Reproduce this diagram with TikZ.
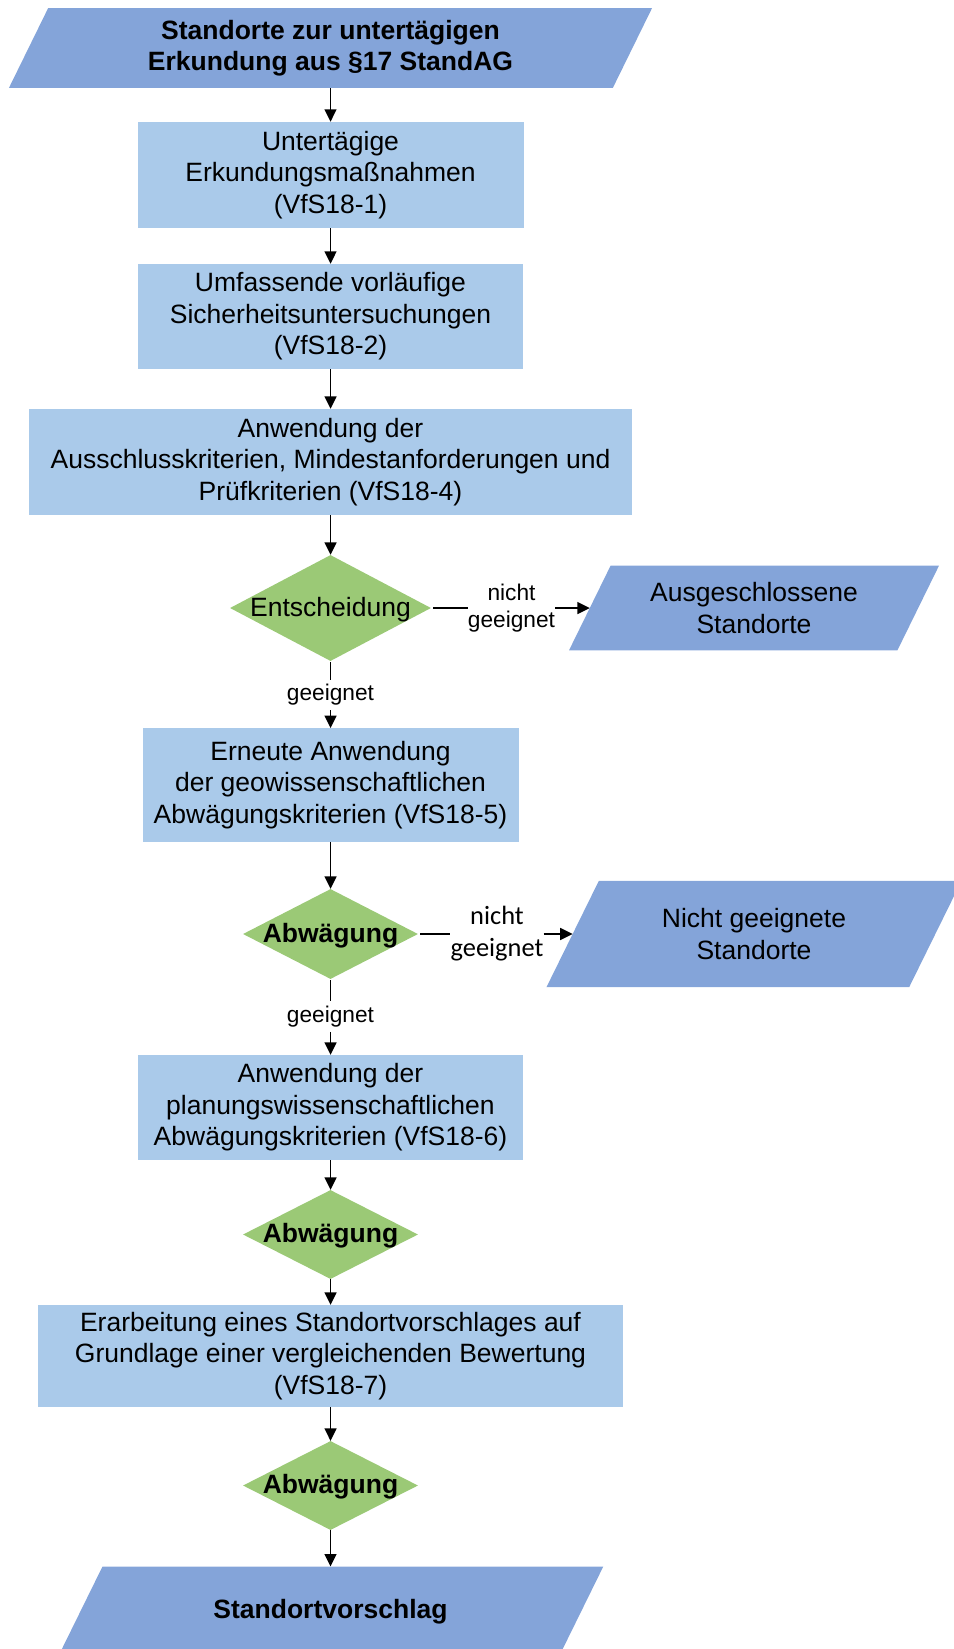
\documentclass[tikz,border=0pt]{standalone}
\usepackage{fontspec}
\setmainfont{Liberation Sans}
\newfontfamily\labelfont{Carlito}
\usetikzlibrary{arrows.meta,calc,shapes.geometric,backgrounds}

\definecolor{paraBlue}{RGB}{132,164,217}
\definecolor{boxBlue}{RGB}{170,202,234}
\definecolor{diaGreen}{RGB}{155,201,118}

% slanted input/output shape behind a text node: #1 node, #2 half of the horizontal skew
\newcommand{\parafill}[2]{%
  \fill[paraBlue] ($(#1.north west)+(#2,0)$) -- ($(#1.north east)+(#2,0)$)
    -- ($(#1.south east)-(#2,0)$) -- ($(#1.south west)-(#2,0)$) -- cycle;}

\tikzset{
  bigtext/.style={font=\fontsize{26.5}{31.5}\selectfont},
  boldtext/.style={font=\fontsize{26.5}{31.5}\selectfont\bfseries},
  stepbox/.style={rectangle, fill=boxBlue, inner sep=0pt, align=center, bigtext},
  iobox/.style={rectangle, inner sep=0pt, align=center},
  decision/.style={diamond, fill=diaGreen, inner sep=0pt},
  edgelabel/.style={inner xsep=0pt, inner ysep=4.5pt, align=center,
    font=\fontsize{22.7}{27.3}\selectfont},
  edgelabelb/.style={inner xsep=0pt, inner ysep=4pt, align=center,
    font=\fontsize{26.4}{32}\selectfont\labelfont},
  flow/.style={-{Triangle[length=12.5pt,width=12pt]}, line width=1.6pt},
  link/.style={line width=1.6pt},
}

\begin{document}
\begin{tikzpicture}[x=1pt,y=-1pt]
\useasboundingbox (0,0) rectangle (953,1649);

% main column
\node[iobox, boldtext, minimum width=603.5pt, minimum height=79.4pt] (p0) at (330.5,48)
  {Standorte zur untertägigen\\Erkundung aus §17 StandAG};
\node[stepbox, minimum width=386pt, minimum height=106pt] (b1) at (330.5,175)
  {Untertägige\\Erkundungsmaßnahmen\\(VfS18-1)};
\node[stepbox, minimum width=385pt, minimum height=105pt] (b2) at (330.5,316.5)
  {Umfassende vorläufige\\Sicherheitsuntersuchungen\\(VfS18-2)};
\node[stepbox, minimum width=603pt, minimum height=106pt] (b3) at (330.5,462)
  {Anwendung der\\Ausschlusskriterien, Mindestanforderungen und\\Prüfkriterien (VfS18-4)};

\node[decision, minimum width=201pt, minimum height=106pt] (d1) at (330.5,608) {};
\node[bigtext] (d1t) at (330.5,610) {Entscheidung};
\node[edgelabel] (l1) at (511.5,608) {nicht\\geeignet};
\node[iobox, bigtext, minimum width=328pt, minimum height=84.3pt] (p1) at (754,608)
  {Ausgeschlossene\\Standorte};
\node[edgelabel] (l2) at (330.5,695) {geeignet};

\node[stepbox, minimum width=376pt, minimum height=113.5pt] (b4) at (330.5,785)
  {Erneute Anwendung\\der geowissenschaftlichen\\Abwägungskriterien (VfS18-5)};

\node[decision, minimum width=175pt, minimum height=90pt] (d2) at (330.5,934) {};
\node[boldtext] (d2t) at (330.5,935.5) {Abwägung};
\node[edgelabelb] (l3) at (497,934) {nicht\\geeignet};
\node[iobox, bigtext, minimum width=362.3pt, minimum height=106pt] (p2) at (754,934)
  {Nicht geeignete\\Standorte};
\node[edgelabel] (l4) at (330.5,1016.7) {geeignet};

\node[stepbox, minimum width=385pt, minimum height=105pt] (b5) at (330.5,1107.5)
  {Anwendung der\\planungswissenschaftlichen\\Abwägungskriterien (VfS18-6)};
\node[decision, minimum width=175pt, minimum height=89pt] (d3) at (330.5,1234.5) {};
\node[boldtext] (d3t) at (330.5,1236) {Abwägung};
\node[stepbox, minimum width=585pt, minimum height=102pt] (b6) at (330.5,1356)
  {Erarbeitung eines Standortvorschlages auf\\Grundlage einer vergleichenden Bewertung\\(VfS18-7)};
\node[decision, minimum width=175pt, minimum height=89pt] (d4) at (330.5,1485.5) {};
\node[boldtext] (d4t) at (330.5,1487) {Abwägung};
\node[iobox, boldtext, minimum width=500.4pt, minimum height=90.6pt] (p3) at (330.5,1612)
  {Standortvorschlag};

\begin{pgfonlayer}{background}
  \parafill{p0}{19.6}
  \parafill{p1}{20.8}
  \parafill{p2}{26.2}
  \parafill{p3}{22.4}
\end{pgfonlayer}

% connectors
\draw[flow] (p0.south) -- (b1.north);
\draw[flow] (b1.south) -- (b2.north);
\draw[flow] (b2.south) -- (b3.north);
\draw[flow] (b3.south) -- (d1.north);
\draw[link, shorten <=2pt] (d1.east) -- (l1.west);
\draw[flow] (l1.east) -- (p1.west);
\draw[link, shorten <=1pt] (d1.south) -- (l2.north);
\draw[flow] (l2.south) -- (b4.north);
\draw[flow] (b4.south) -- (d2.north);
\draw[link, shorten <=2pt] (d2.east) -- (l3.west);
\draw[flow] (l3.east) -- (p2.west);
\draw[link, shorten <=1pt] (d2.south) -- (l4.north);
\draw[flow] (l4.south) -- (b5.north);
\draw[flow] (b5.south) -- (d3.north);
\draw[flow] (d3.south) -- (b6.north);
\draw[flow] (b6.south) -- (d4.north);
\draw[flow] (d4.south) -- (p3.north);
\end{tikzpicture}
\end{document}
